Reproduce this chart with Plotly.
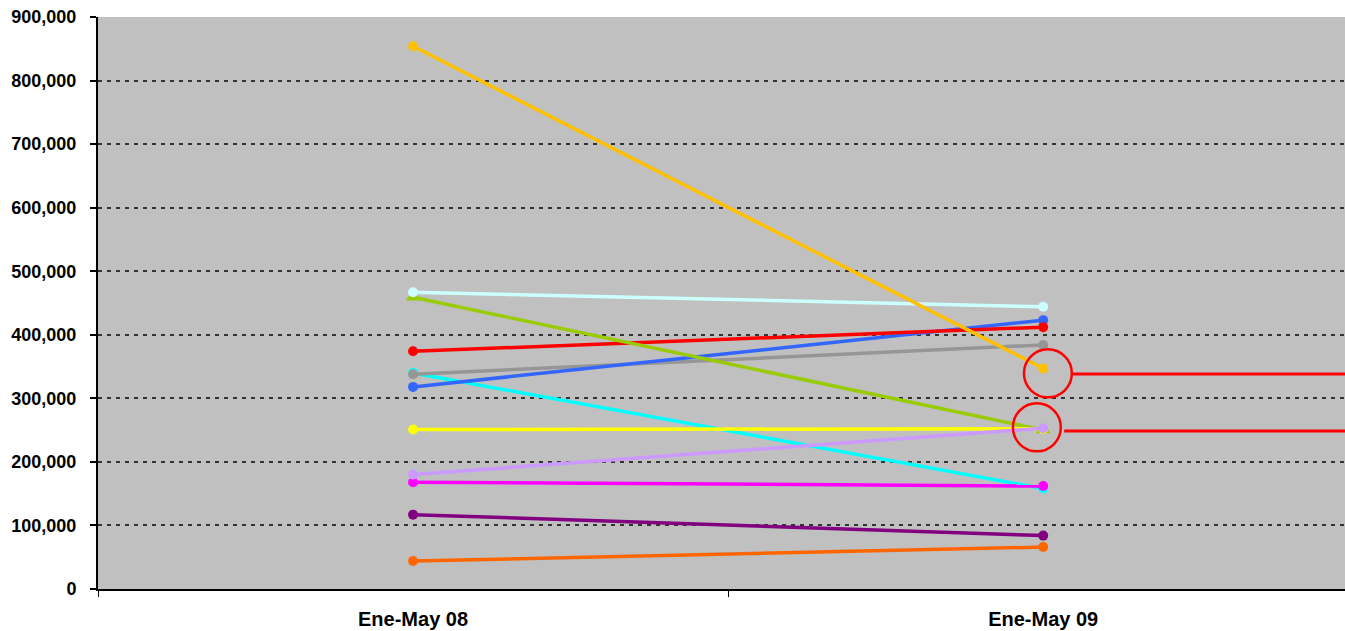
import plotly.graph_objects as go

# Periods compared
periods = ["Ene-May 08", "Ene-May 09"]
x_pos = [0, 1]

# Y axis ticks
y_ticks = [0, 100000, 200000, 300000, 400000, 500000, 600000, 700000, 800000, 900000]

# Values per series (Ene-May 08, Ene-May 09)
s_orange = [44000, 66000]
s_purple = [117000, 84000]
s_cyan = [340000, 158000]
s_magenta = [168000, 162000]
s_lavender = [180000, 253000]
s_yellow = [251000, 252000]
s_gray = [338000, 384000]
s_blue = [318000, 423000]
s_red = [374000, 412000]
s_green = [459000, 250000]
s_lightcyan = [467000, 444000]
s_gold = [854000, 347000]

series = [
    (s_orange, "#FF6600", "circle"),
    (s_purple, "#800080", "circle"),
    (s_cyan, "#00FFFF", "circle"),
    (s_magenta, "#FF00FF", "circle"),
    (s_gray, "#969696", "circle"),
    (s_blue, "#3366FF", "circle"),
    (s_red, "#FF0000", "circle"),
    (s_green, "#99CC00", "triangle-up"),
    (s_yellow, "#FFFF00", "circle"),
    (s_lavender, "#CC99FF", "circle"),
    (s_lightcyan, "#CCFFFF", "circle"),
    (s_gold, "#FFC000", "circle"),
]

fig = go.Figure()
for vals, color, sym in series:
    fig.add_trace(go.Scatter(
        x=x_pos, y=vals, mode="lines+markers",
        line=dict(color=color, width=3.5),
        marker=dict(color=color, size=10 if sym == "circle" else 13, symbol=sym),
        showlegend=False, hoverinfo="skip",
    ))

# Highlight circles with pointer lines toward the right edge
highlights = [
    # (center x, center y, pointer y, pointer start x)
    (1.0075, 339400, 338300, 1.0456),
    (0.990, 254400, 248600, 1.0333),
]
rx, ry = 0.038, 37800
for cx, cy, ly, lx in highlights:
    fig.add_shape(type="circle", xref="x", yref="y",
                  x0=cx - rx, x1=cx + rx, y0=cy - ry, y1=cy + ry,
                  line=dict(color="#FF0000", width=2.5))
    fig.add_shape(type="line", xref="x", yref="y",
                  x0=lx, x1=1.479, y0=ly, y1=ly,
                  line=dict(color="#FF0000", width=3))

font_main = "Liberation Sans, Arial, sans-serif"

fig.update_layout(
    width=1345, height=631,
    margin=dict(l=98, r=0, t=17, b=42),
    paper_bgcolor="white",
    plot_bgcolor="#C0C0C0",
    xaxis=dict(
        range=[-0.5, 1.479],
        tickmode="array", tickvals=x_pos, ticktext=[f"<b>{p}</b>" for p in periods],
        ticks="", showgrid=False, zeroline=False,
        showline=True, linecolor="black", linewidth=2,
        tickfont=dict(family=font_main, size=20, color="black"),
        ticklabelstandoff=11,
        minor=dict(tick0=-0.5, dtick=1, ticks="outside", ticklen=6,
                   tickcolor="black", tickwidth=1, showgrid=False),
    ),
    yaxis=dict(
        range=[0, 900000],
        tickmode="array", tickvals=y_ticks,
        ticktext=[f"<b>{v:,}</b>" for v in y_ticks],
        ticks="outside", ticklen=6, tickcolor="black", tickwidth=2,
        showline=True, linecolor="black", linewidth=2,
        showgrid=True, gridcolor="#333333", gridwidth=1.5, griddash="4px,5px",
        zeroline=False, automargin=False,
        tickfont=dict(family=font_main, size=18, color="black"),
        ticklabelstandoff=10,
    ),
)

fig.write_html("out.html")
